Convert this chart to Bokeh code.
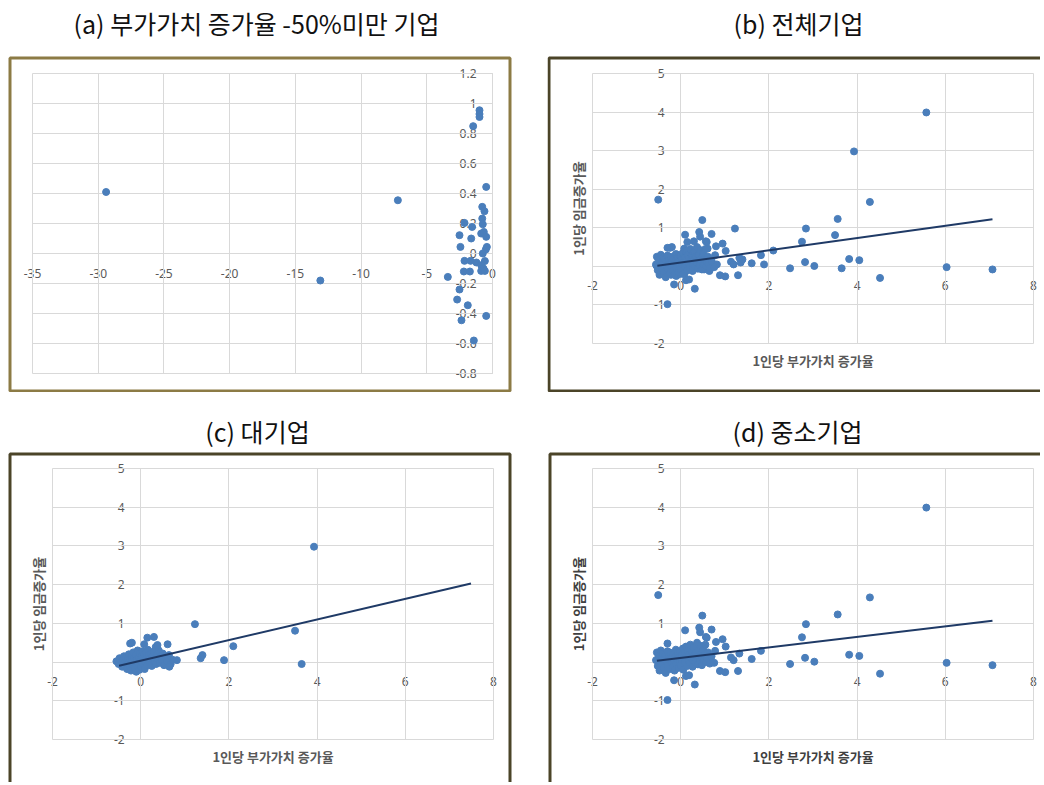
import math
from bokeh.plotting import figure
from bokeh.layouts import row, column
from bokeh.models import Range1d, FixedTicker, CustomJSTickFormatter, Label, BoxAnnotation
from bokeh.embed import file_html
from bokeh.resources import INLINE

# ---------------- data ----------------
panel_titles = ["(a) 부가가치 증가율 -50%미만 기업", "(b) 전체기업", "(c) 대기업", "(d) 중소기업"]
x_title = "1인당 부가가치 증가율"
y_title = "1인당 임금증가율"

# (a) firms with value-added growth below -50%
a_x = [-29.4, -13.1, -7.2, -3.40, -2.69, -2.51, -2.51, -2.44, -2.36, -2.18,
       -2.13, -2.13, -1.88, -1.72, -1.67, -1.62, -1.55, -1.47, -1.42, -1.22,
       -0.99, -0.99, -0.99, -0.86, -0.86, -0.86, -0.78, -0.78, -0.74, -0.74,
       -0.69, -0.66, -0.61, -0.58, -0.58, -0.51, -0.48, -0.48, -0.48, -0.43]
a_y = [0.41, -0.18, 0.355, -0.156, -0.307, 0.122, -0.24, 0.044, -0.445, -0.12,
       0.204, -0.049, -0.345, -0.12, -0.049, 0.10, 0.177, 0.849, -0.58, -0.06,
       0.955, 0.93, 0.91, 0.133, -0.078, -0.116, 0.311, 0.233, 0.195, 0.0,
       -0.10, 0.144, 0.282, -0.05, -0.116, 0.027, 0.444, 0.111, -0.416, 0.044]

# (c) large firms
large_x = [-0.55, -0.50, -0.48, -0.45, -0.42, -0.40, -0.38, -0.36, -0.35, -0.33,
           -0.31, -0.30, -0.28, -0.27, -0.25, -0.24, -0.22, -0.21, -0.20, -0.18,
           -0.17, -0.15, -0.14, -0.12, -0.11, -0.10, -0.08, -0.07, -0.05, -0.04,
           -0.03, -0.02, 0.00, 0.01, 0.02, 0.04, 0.05, 0.06, 0.08, 0.09,
           0.10, 0.12, 0.13, 0.15, 0.16, 0.18, 0.19, 0.21, 0.22, 0.24,
           0.25, 0.27, 0.29, 0.30, 0.32, 0.34, 0.35, 0.37, 0.39, 0.41,
           0.43, 0.45, 0.48, 0.50, 0.53, 0.56, 0.60, 0.64, 0.68, 0.72,
           -0.24, -0.20, 0.08, 0.15, 0.30, 0.34, 0.38, 0.61, 0.65, 0.82,
           1.23, 1.36, 1.40, 1.89, 2.10, 3.50, 3.65, 3.93]
large_y = [0.02, -0.05, 0.10, 0.00, -0.12, 0.06, 0.15, -0.08, 0.03, 0.12,
           -0.18, 0.05, -0.02, 0.20, -0.10, 0.08, -0.22, 0.14, 0.02, -0.06,
           0.25, 0.10, -0.15, 0.04, 0.18, -0.25, 0.07, 0.30, -0.03, 0.12,
           -0.20, 0.22, 0.05, -0.12, 0.15, 0.28, -0.05, 0.10, 0.20, -0.18,
           0.02, 0.25, 0.12, -0.08, 0.32, 0.06, 0.18, -0.02, 0.10, 0.22,
           -0.10, 0.15, 0.05, 0.28, 0.00, 0.12, -0.05, 0.20, 0.08, 0.30,
           -0.02, 0.15, 0.05, 0.22, -0.08, 0.10, 0.02, 0.18, -0.05, 0.06,
           0.48, 0.50, 0.46, 0.63, 0.65, 0.39, 0.44, 0.46, -0.12, 0.05,
           0.98, 0.10, 0.18, 0.05, 0.41, 0.81, -0.05, 2.98]

# (d) small and medium firms
sme_x = [-0.56, -0.54, -0.52, -0.50, -0.48, -0.47, -0.45, -0.43, -0.42, -0.40,
         -0.38, -0.37, -0.35, -0.34, -0.32, -0.30, -0.29, -0.27, -0.26, -0.24,
         -0.23, -0.21, -0.20, -0.18, -0.17, -0.15, -0.14, -0.12, -0.11, -0.10,
         -0.08, -0.07, -0.05, -0.04, -0.02, -0.01, 0.00, 0.02, 0.03, 0.05,
         0.06, 0.07, 0.09, 0.10, 0.12, 0.13, 0.15, 0.16, 0.18, 0.19,
         0.21, 0.22, 0.24, 0.25, 0.27, 0.28, 0.30, 0.31, 0.33, 0.34,
         0.36, 0.37, 0.39, 0.40, 0.42, 0.43, 0.45, 0.46, 0.48, 0.49,
         0.51, 0.52, 0.54, 0.56, 0.58, 0.60, 0.62, 0.64, 0.66, 0.70,
         -0.51, -0.30, -0.30, -0.15, 0.10, 0.12, 0.19, 0.32, 0.42, 0.44,
         0.49, 0.57, 0.59, 0.70, 0.76, 0.78, 0.80, 0.89, 0.95, 1.01,
         1.02, 1.14, 1.20, 1.30, 1.33, 1.61, 1.82, 2.48, 2.75, 2.82,
         2.84, 3.03, 3.56, 3.82, 4.05, 4.29, 4.52, 5.57, 6.03, 7.07]
sme_y = [0.05, 0.25, -0.10, 0.15, -0.22, 0.02, 0.30, -0.05, 0.12, 0.22,
         -0.15, 0.08, 0.18, -0.28, 0.02, 0.28, -0.08, 0.14, 0.05, -0.18,
         0.24, 0.00, 0.10, -0.12, 0.20, 0.05, -0.22, 0.15, 0.32, -0.04,
         0.08, 0.22, -0.15, 0.12, 0.02, 0.28, -0.08, 0.18, 0.06, 0.35,
         -0.20, 0.12, 0.25, 0.00, 0.40, 0.15, -0.10, 0.30, 0.08, 0.20,
         -0.02, 0.45, 0.12, 0.28, -0.12, 0.05, 0.38, 0.18, 0.00, 0.25,
         0.10, 0.50, -0.06, 0.30, 0.15, 0.03, 0.42, 0.20, -0.08, 0.10,
         0.32, 0.05, 0.18, 0.45, 0.00, 0.12, 0.25, 0.08, -0.04, 0.15,
         1.73, 0.48, -0.98, -0.47, 0.82, -0.36, -0.34, -0.58, 0.89, 0.77,
         1.20, 0.65, 0.63, 0.84, -0.02, 0.29, 0.52, -0.23, 0.59, -0.26,
         0.40, 0.12, 0.05, -0.23, 0.22, 0.08, 0.29, -0.05, 0.64, 0.11,
         0.98, 0.01, 1.23, 0.19, 0.16, 1.67, -0.30, 3.99, -0.02, -0.08]

# (b) all firms = large + SME
all_x = large_x + sme_x
all_y = large_y + sme_y

# linear trend lines: (b), (c), (d)
trend_intercept = [0.098, 0.034, 0.105]
trend_slope = [0.159, 0.2666, 0.1357]
trend_x_start = [-0.53, -0.49, -0.54]
trend_x_end = [7.07, 7.49, 7.07]

# axis ticks
a_xticks = [-35, -30, -25, -20, -15, -10, -5, 0]
a_yticks = [-0.8, -0.6, -0.4, -0.2, 0, 0.2, 0.4, 0.6, 0.8, 1.0, 1.2]
bcd_xticks = [-2, 0, 2, 4, 6, 8]
bcd_yticks = [-2, -1, 0, 1, 2, 3, 4, 5]

# ---------------- style ----------------
DOT = "#4A7EBB"
TREND = "#1F3A66"
GRID = "#D9D9D9"
AXIS = "#BFBFBF"
LABEL = "#595959"
FONT = "Noto Sans CJK KR"
LIGHT_BORDER = "#8C7B45"
DARK_BORDER = "#4B4428"
FMT = CustomJSTickFormatter(code="return (Math.round(tick*10)/10).toString();")


class Panel:
    """Canvas cw x ch (px); plotting area gw x gh at offset (gl, gt) inside it."""

    def __init__(self, cw, ch, gl, gt, gw, gh, xlim, ylim, xticks, yticks):
        self.sx = gw / (xlim[1] - xlim[0])
        self.sy = gh / (ylim[1] - ylim[0])
        self.xlim, self.ylim = xlim, ylim
        self.cw, self.ch = cw, ch
        self.x0 = xlim[0] - gl / self.sx
        self.y1 = ylim[1] + gt / self.sy
        xr = (self.x0, self.x0 + cw / self.sx)
        yr = (self.y1 - ch / self.sy, self.y1)
        p = figure(width=cw, height=ch, x_range=Range1d(*xr), y_range=Range1d(*yr),
                   min_border=0, output_backend="svg", toolbar_location=None,
                   background_fill_color="white", border_fill_color="white")
        p.title.visible = False
        p.outline_line_color = None
        p.xaxis.ticker = FixedTicker(ticks=xticks)
        p.yaxis.ticker = FixedTicker(ticks=yticks)
        p.xaxis.bounds = tuple(xlim)
        p.yaxis.bounds = tuple(ylim)
        for ax in (p.xaxis[0], p.yaxis[0]):
            ax.fixed_location = 0
            ax.formatter = FMT
            ax.major_tick_line_color = None
            ax.minor_tick_line_color = None
            ax.axis_line_color = AXIS
            ax.major_label_text_font = "Noto Sans"
            ax.major_label_text_font_size = "12px"
            ax.major_label_text_color = LABEL
            ax.level = "underlay"
        p.xaxis.major_label_standoff = 9
        p.yaxis.major_label_standoff = 10
        p.xgrid.grid_line_color = GRID
        p.ygrid.grid_line_color = GRID
        p.xgrid.bounds = tuple(xlim)
        p.xgrid.cross_bounds = tuple(ylim)
        p.ygrid.bounds = tuple(ylim)
        p.ygrid.cross_bounds = tuple(xlim)
        self.p = p

    def X(self, px):
        return self.x0 + px / self.sx

    def Y(self, py):
        return self.y1 - py / self.sy

    def border(self, left, top, right, bottom, color):
        # right / bottom = None -> that side lies outside the canvas (cropped, as in the source)
        r = self.cw + 20 if right is None else right - 1.5
        b = self.ch + 20 if bottom is None else bottom - 1.5
        self.p.add_layout(BoxAnnotation(left=self.X(left + 1.5), right=self.X(r),
                                        top=self.Y(top + 1.5), bottom=self.Y(b),
                                        fill_alpha=0, line_color=color, line_width=3,
                                        line_alpha=1.0))

    def title(self, text, cx, cy):
        self.p.add_layout(Label(x=self.X(cx), y=self.Y(cy), text=text,
                                text_align="center", text_baseline="middle",
                                text_font=FONT, text_font_size="25px",
                                text_color="#111111"))

    def axis_titles(self, color):
        xl, yl = self.xlim, self.ylim
        self.p.add_layout(Label(x=(xl[0] + xl[1]) / 2, y=yl[0] - 17 / self.sy, text=x_title,
                                text_align="center", text_baseline="middle", text_font=FONT,
                                text_font_size="13px", text_font_style="bold",
                                text_color=color))
        self.p.add_layout(Label(x=xl[0] - 14 / self.sx, y=(yl[0] + yl[1]) / 2, text=y_title,
                                angle=math.pi / 2, text_align="center",
                                text_baseline="middle", text_font=FONT,
                                text_font_size="13px", text_font_style="bold",
                                text_color=color))


# (a)  canvas: x 0..547, y 0..392 of the page
pa = Panel(547, 392, 32, 73, 460, 300, (-35, 0), (-0.8, 1.2), a_xticks, a_yticks)
pa.p.scatter(a_x, a_y, size=7, color=DOT)
pa.border(8, 56, 511, 392, LIGHT_BORDER)
pa.title(panel_titles[0], 256, 22)

# (b)  canvas: x 547..1040, y 0..392
pb = Panel(493, 392, 45, 73, 441, 270, (-2, 8), (-2, 5), bcd_xticks, bcd_yticks)
pb.p.scatter(all_x, all_y, size=7, color=DOT)
pb.border(0, 56, None, 392, DARK_BORDER)
pb.title(panel_titles[1], 251, 22)
pb.axis_titles(LABEL)

# (c)  canvas: x 0..547, y 392..782
pc = Panel(547, 390, 52, 76, 441, 271, (-2, 8), (-2, 5), bcd_xticks, bcd_yticks)
pc.p.scatter(large_x, large_y, size=7, color=DOT)
pc.border(8, 60, 511, None, DARK_BORDER)
pc.title(panel_titles[2], 257, 38)
pc.axis_titles(LABEL)

# (d)  canvas: x 547..1040, y 392..782
pd_ = Panel(493, 390, 45, 76, 441, 271, (-2, 8), (-2, 5), bcd_xticks, bcd_yticks)
pd_.p.scatter(sme_x, sme_y, size=7, color=DOT)
pd_.border(1, 60, None, None, DARK_BORDER)
pd_.title(panel_titles[3], 250, 38)
pd_.axis_titles("#404040")

for i, pn in enumerate([pb, pc, pd_]):
    x0, x1 = trend_x_start[i], trend_x_end[i]
    b0, b1 = trend_intercept[i], trend_slope[i]
    pn.p.line([x0, x1], [b0 + b1 * x0, b0 + b1 * x1], line_color=TREND, line_width=2)

layout = column(row(pa.p, pb.p), row(pc.p, pd_.p))

open("out.html", "w").write(file_html(layout, INLINE))
